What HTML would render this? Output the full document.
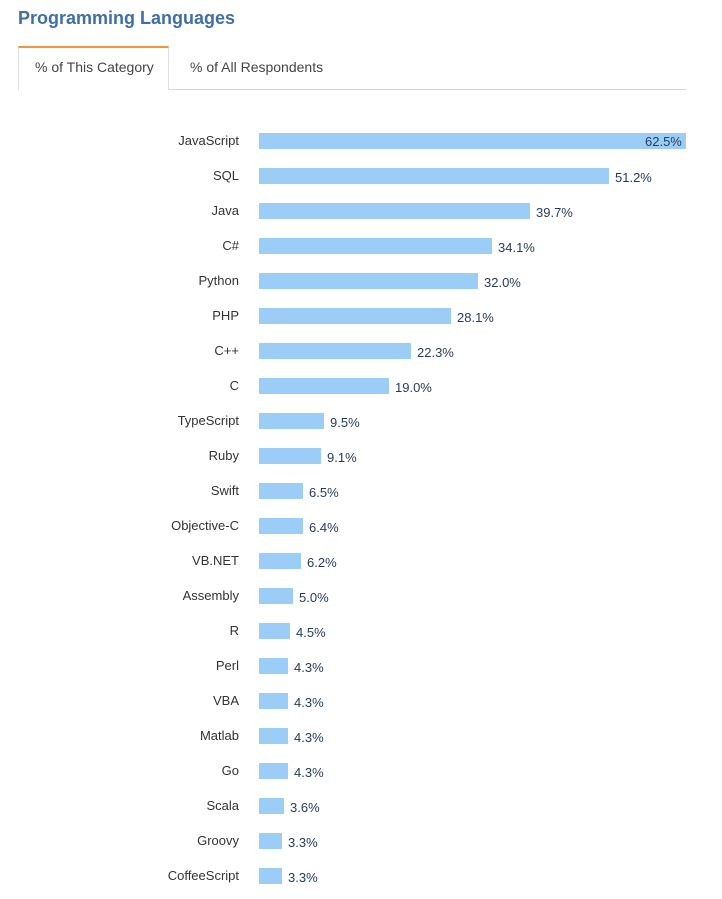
<!DOCTYPE html>
<html><head><style>
body{margin:0;background:#fff;font-family:"Liberation Sans",sans-serif;width:722px;height:899px;position:relative;overflow:hidden}
h1{position:absolute;left:18px;top:8px;margin:0;font-size:18px;font-weight:bold;color:#3f6fa6}
.tabline{position:absolute;left:18px;top:89px;width:668px;height:1px;background:#d8d8d8}
.tab1{position:absolute;left:18px;top:46px;width:151px;height:44px;border-top:2px solid #f0953a;border-left:1px solid #ddd;border-right:1px solid #ddd;background:#fff;box-sizing:border-box;z-index:2}
.t{position:absolute;font-size:14px;color:#444;top:59px}
.lab{position:absolute;right:483px;font-size:13px;color:#333;text-align:right;white-space:nowrap}
.bar{position:absolute;left:259px;height:16px;background:#9ccdf6}
.val{position:absolute;font-size:13px;color:#263c5e}
</style></head><body>
<h1>Programming Languages</h1>
<div class="tabline"></div>
<div class="tab1"></div>
<div class="t" style="left:35px;z-index:3">% of This Category</div>
<div class="t" style="left:190px">% of All Respondents</div>
<div id="c"></div>
<script>
var d=[["JavaScript",62.5],["SQL",51.2],["Java",39.7],["C#",34.1],["Python",32.0],["PHP",28.1],["C++",22.3],["C",19.0],["TypeScript",9.5],["Ruby",9.1],["Swift",6.5],["Objective-C",6.4],["VB.NET",6.2],["Assembly",5.0],["R",4.5],["Perl",4.3],["VBA",4.3],["Matlab",4.3],["Go",4.3],["Scala",3.6],["Groovy",3.3],["CoffeeScript",3.3]];
var h="";
d.forEach(function(e,i){var y=133+i*35;var w=Math.round(e[1]*427/62.5);
h+='<div class="lab" style="top:'+(y)+'px">'+e[0]+'</div>';
h+='<div class="bar" style="top:'+y+'px;width:'+w+'px"></div>';
var v=e[1].toFixed(1)+'%';
if(i==0)h+='<div class="val" style="top:'+(y+1)+'px;left:645px">'+v+'</div>';
else h+='<div class="val" style="top:'+(y+2)+'px;left:'+(259+w+6)+'px">'+v+'</div>';});
document.getElementById("c").innerHTML=h;
</script>
</body></html>
